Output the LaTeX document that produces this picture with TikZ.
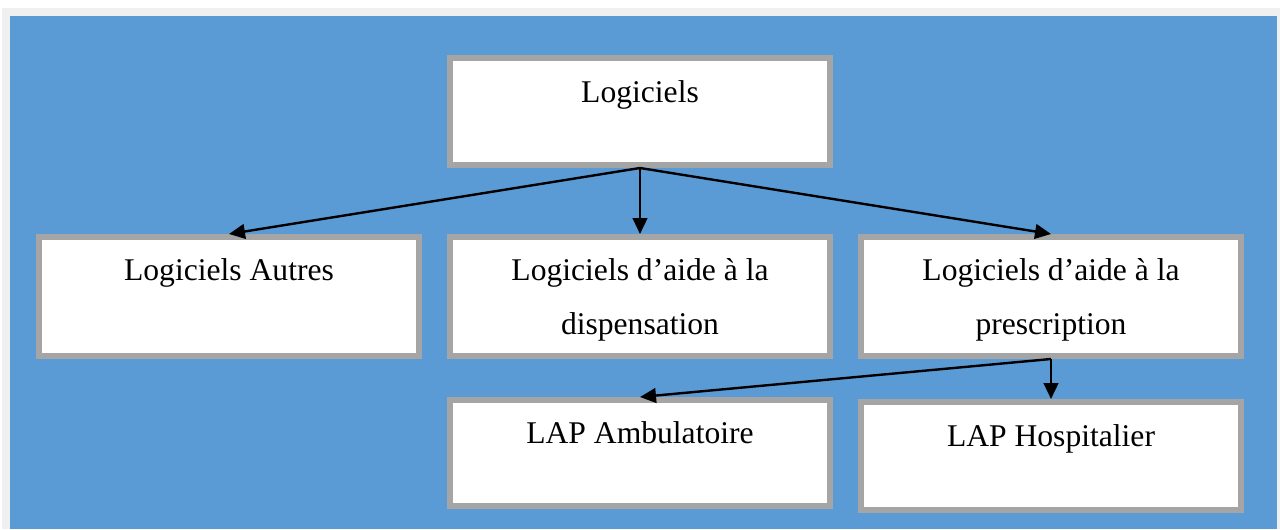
\documentclass[tikz,border=0pt]{standalone}
\usepackage{fontspec}
\setmainfont{Liberation Serif}
\usetikzlibrary{arrows.meta}
\definecolor{bgblue}{HTML}{5B9BD5}
\definecolor{boxgrey}{HTML}{A5A5A5}
\definecolor{outergrey}{HTML}{F0F0F0}
\begin{document}
\begin{tikzpicture}[x=0.75pt,y=-0.75pt,
  box/.style={rectangle, draw=boxgrey, fill=white, line width=4.5pt, minimum width=380*0.75pt, inner sep=0pt},
  txt/.style={anchor=base, inner sep=0pt, align=center, font=\fontsize{23.7}{40.5}\selectfont},
  conn/.style={line width=1.8pt, -{Triangle[length=12pt,width=11pt]}}]
\useasboundingbox (0,0) rectangle (1280,529);
\fill[white] (0,0) rectangle (1280,529);
\fill[outergrey] (2,8) rectangle (1280,529);
\fill[bgblue] (10,16) rectangle (1277,529);
% boxes
\node[box, minimum height=107*0.75pt] (top) at (640,111.5) {};
\node[box, minimum height=119*0.75pt] (autres) at (229,296.5) {};
\node[box, minimum height=119*0.75pt] (disp) at (640,296.5) {};
\node[box, minimum height=119*0.75pt] (presc) at (1051,296.5) {};
\node[box, minimum height=106*0.75pt] (amb) at (640,453) {};
\node[box, minimum height=108*0.75pt] (hosp) at (1051,456) {};
% texts
\node[txt] (ttop) at (640,102) {Logiciels};
\node[txt] (tautres) at (229,280.5) {Logiciels Autres};
\node[txt] (tdisp1) at (640,280.5) {Logiciels d’aide à la};
\node[txt] (tdisp2) at (640,334.5) {dispensation};
\node[txt] (tpresc1) at (1051,280.5) {Logiciels d’aide à la};
\node[txt] (tpresc2) at (1051,334.5) {prescription};
\node[txt] (tamb) at (640,443.5) {LAP Ambulatoire};
\node[txt] (thosp) at (1051,446) {LAP Hospitalier};
% connectors
\draw[conn] (top.south) -- (autres.north);
\draw[conn] (top.south) -- (disp.north);
\draw[conn] (top.south) -- (presc.north);
\draw[conn] (presc.south) -- (amb.north);
\draw[conn] (presc.south) -- (hosp.north);
\end{tikzpicture}
\end{document}
